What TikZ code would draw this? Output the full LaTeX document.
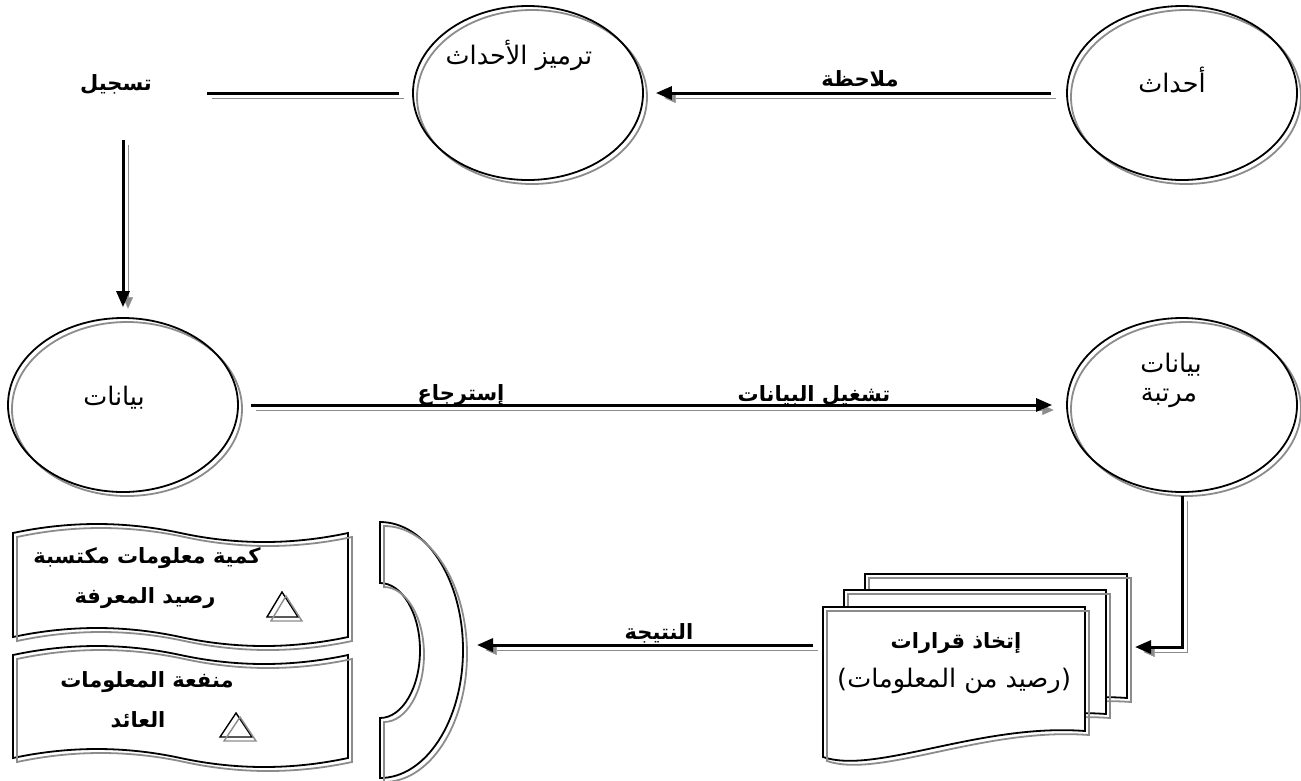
\documentclass[tikz,border=0pt]{standalone}
\usepackage{fontspec}
\usetikzlibrary{arrows.meta,shapes.geometric}
\newfontfamily\arabicfont[Script=Arabic]{DejaVu Sans}
\newfontfamily\plainfont{DejaVu Sans}
\TeXXeTstate=1
\newcommand\artxt[1]{\arabicfont\beginR #1\endR}
\definecolor{shade}{RGB}{140,140,140}

% one sheet of the stacked documents, shifted by (#1,#2)
\newcommand\docsheet[2]{%
  \draw[sheet] (823+#1,607+#2) -- (1085+#1,607+#2) -- (1085+#1,731+#2)
    .. controls (980+#1,723+#2) and (875+#1,775+#2) .. (823+#1,757+#2) -- cycle;}
% a punched-tape band between two wavy edges with base lines #1 and #2
\newcommand\tapeband[2]{%
  \draw[outline] (13,#1) .. controls (69,#1-12) and (125,#1-12) .. (180.5,#1)
    .. controls (236,#1+12) and (292,#1+12) .. (348,#1) -- (348,#2)
    .. controls (292,#2+12) and (236,#2+12) .. (180.5,#2)
    .. controls (125,#2-12) and (69,#2-12) .. (13,#2) -- cycle;}

\begin{document}
\begin{tikzpicture}[x=1pt,y=-1pt,
  ghost/.style={draw=shade, fill=none, transform canvas={shift={(#1,-#1)}}},
  ghost/.default=4pt,
  ring/.style={ellipse, draw, line width=1.8pt, minimum width=230pt,
    minimum height=174pt, inner sep=0pt, preaction={ghost}},
  flow/.style={draw, line width=3pt, -{Triangle[length=16pt,width=13pt]},
    preaction={ghost=5pt}},
  link/.style={draw, line width=3pt, preaction={ghost=5pt}},
  sheet/.style={draw, fill=white, line width=1.8pt, postaction={ghost}},
  outline/.style={draw, line width=1.8pt, postaction={ghost}},
  lbl/.style={font=\fontsize{25.5}{30}\selectfont, inner sep=0pt},
  blbl/.style={font=\fontsize{21}{25}\selectfont\bfseries, inner sep=0pt},
]
\fill[white] (0,0) rectangle (1301,780);
\useasboundingbox (0,0) rectangle (1301,780);

% ---- ellipses
\node[ring] (ev) at (1182,93) {};
\node[ring] (enc) at (528,93) {};
\node[ring] (dat) at (123,405) {};
\node[ring] (sorted) at (1182,405) {};

\node[lbl] (evt) at (1172,80) {\artxt{أحداث}};
\node[lbl] (enct) at (519,55) {\artxt{ترميز الأحداث}};
\node[lbl] (datt) at (114,398) {\artxt{بيانات}};
\node[lbl] (sortt1) at (1171,365) {\artxt{بيانات}};
\node[lbl] (sortt2) at (1169,398) {\artxt{مرتبة}};

% ---- top row
\node[blbl] (obs) at (860,79) {\artxt{ملاحظة}};
\draw[flow] ([xshift=-15pt]ev.west) -- ([xshift=12pt]enc.east);

\node[blbl] (rec) at (116,84) {\artxt{تسجيل}};
\coordinate (recend) at (207,93);
\draw[link] ([xshift=-13pt]enc.west) -- (recend);

\coordinate (recdown) at (123,140);
\draw[flow] (recdown) -- ([yshift=10pt]dat.north);

% ---- middle row
\node[blbl] (ret) at (461,395) {\artxt{إسترجاع}};
\node[blbl] (proc) at (814,395) {\artxt{تشغيل البيانات}};
\draw[flow] ([xshift=12pt]dat.east) -- ([xshift=-14pt]sorted.west);

% ---- stacked documents
\docsheet{42}{-33}
\docsheet{21}{-17}
\docsheet{0}{0}
\node[blbl] (dec1) at (956,643) {\artxt{إتخاذ قرارات}};
\node[lbl] (dec2) at (954,681) {\artxt{رصيد من المعلومات}};
\node[lbl, anchor=base east] (decl) at (dec2.base west) {\plainfont(};
\node[lbl, anchor=base west] (decr) at (dec2.base east) {\plainfont)};

\coordinate (deskin) at (1135,647);
\draw[flow] ([yshift=-3pt]sorted.south) |- (deskin);

% ---- result arrow
\node[blbl] (res) at (659,633) {\artxt{النتيجة}};
\coordinate (deskout) at (813,645);
\coordinate (panel) at (477,645);
\draw[flow] (deskout) -- (panel);

% ---- curved panel
\draw[outline] (380,522) -- (380,583)
  .. controls (402.1,583) and (420,613.2) .. (420,650.5)
  .. controls (420,687.8) and (402.1,718) .. (380,718) -- (380,778)
  .. controls (425.8,778) and (463,720.7) .. (463,650)
  .. controls (463,579.3) and (425.8,522) .. (380,522) -- cycle;

% ---- tape bands
\tapeband{533}{637}
\tapeband{655}{758}
\draw[outline, line width=1.4pt] (282,592) -- (298,617) -- (267,617) -- cycle;
\draw[outline, line width=1.4pt] (236,713) -- (252,737) -- (220,737) -- cycle;

\node[blbl] (gain1) at (147,558) {\artxt{كمية معلومات مكتسبة}};
\node[blbl] (gain2) at (145,598) {\artxt{رصيد المعرفة}};
\node[blbl] (use1) at (147,682) {\artxt{منفعة المعلومات}};
\node[blbl] (use2) at (138,720) {\artxt{العائد}};
\end{tikzpicture}
\end{document}
